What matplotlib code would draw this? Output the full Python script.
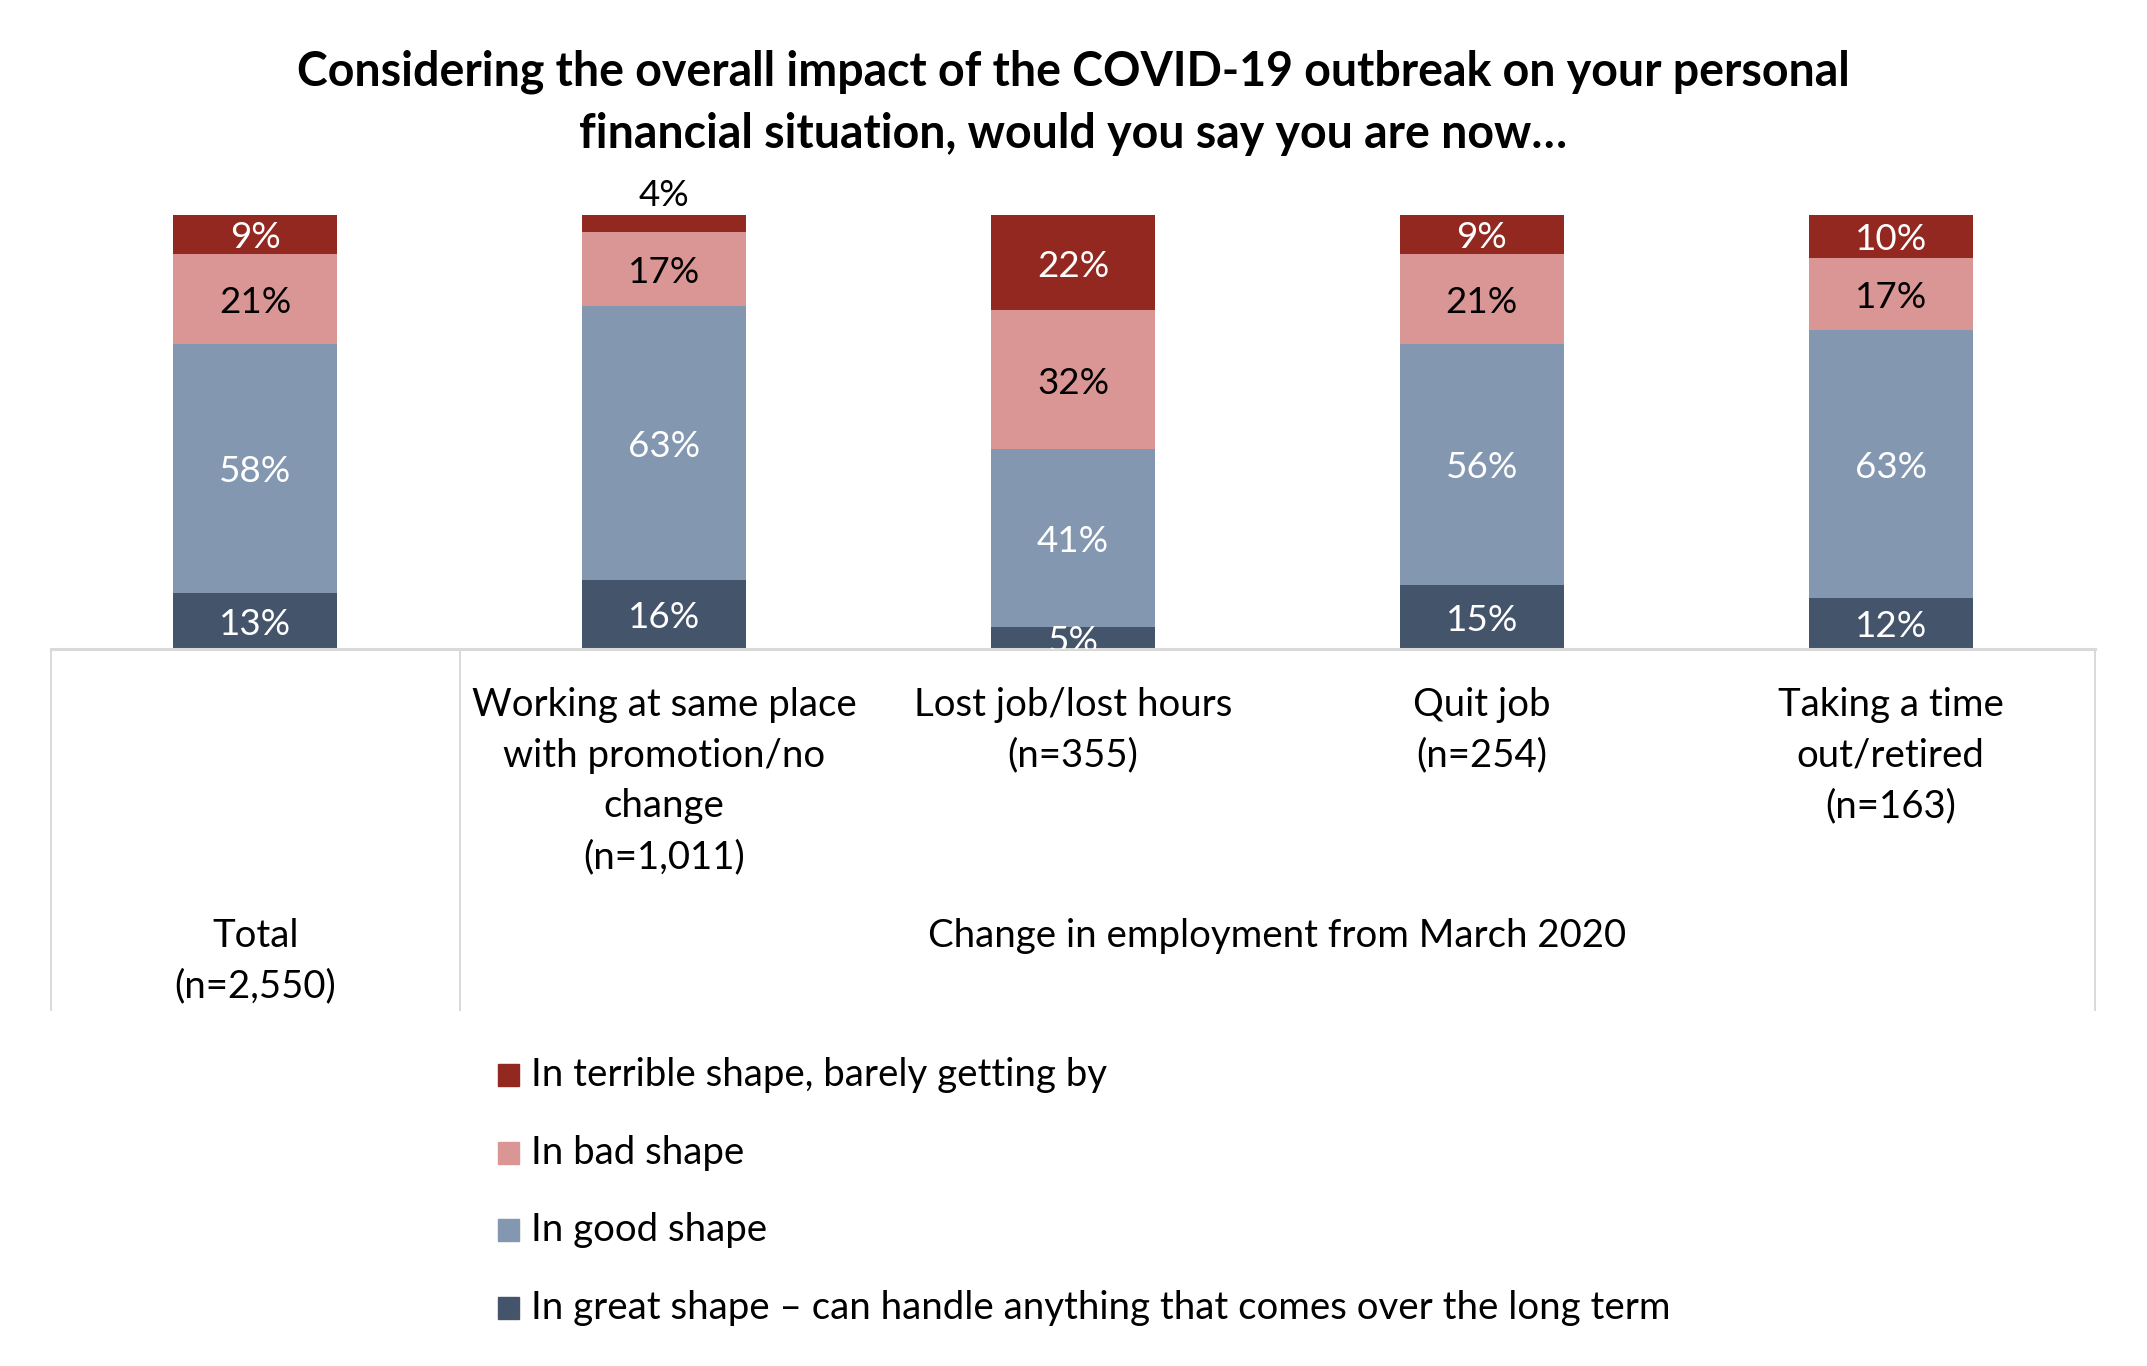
import matplotlib
matplotlib.use("Agg")
import matplotlib.pyplot as plt
from matplotlib.patches import Rectangle
import numpy as np

plt.rcParams['font.family'] = ['Lato', 'DejaVu Sans']

# data (percent labels)
groups = ["Total", "Working", "Lost job", "Quit job", "Time out"]
great = np.array([13, 16, 5, 15, 12])
good = np.array([58, 63, 41, 56, 63])
bad = np.array([21, 17, 32, 21, 17])
terrible = np.array([9, 4, 22, 9, 10])

series_names = ["In great shape \u2013 can handle anything that comes over the long term",
                "In good shape",
                "In bad shape",
                "In terrible shape, barely getting by"]
colors = ["#44546A", "#8497B0", "#DA9694", "#922820"]
label_colors = ["white", "white", "black", "white"]

cat_labels = ["", "Working at same place\nwith promotion/no\nchange\n(n=1,011)",
              "Lost job/lost hours\n(n=355)", "Quit job\n(n=254)",
              "Taking a time\nout/retired\n(n=163)"]
total_label = "Total\n(n=2,550)"
group_label = "Change in employment from March 2020"
title = "Considering the overall impact of the COVID-19 outbreak on your personal\nfinancial situation, would you say you are now\u2026"

W, H = 2147.0, 1366.0  # pixel grid of the output
def fx(x):
    return x / W
def fy(y):
    return 1 - y / H

def lines_text(xc, y0, step, txt, **kw):
    # put each line of a multi-line label on its own row
    for k, line in enumerate(txt.split("\n")):
        fig.text(fx(xc), fy(y0 + k * step), line, ha='center', va='center', **kw)

fig = plt.figure(figsize=(21.47, 13.66), dpi=100)
ax_l, ax_r, ax_b, ax_t = 51, 2095, 649, 215
ax = fig.add_axes([fx(ax_l), fy(ax_b), fx(ax_r) - fx(ax_l), fy(ax_t) - fy(ax_b)])

data = np.vstack([great, good, bad, terrible]).astype(float)
shares = data / data.sum(axis=0) * 100  # 100% stacked like Excel
x = np.arange(len(groups))
bottom = np.zeros(len(groups))
for k in range(4):
    ax.bar(x, shares[k], 0.401, bottom=bottom, color=colors[k], edgecolor='none')
    for i in range(len(groups)):
        val = data[k, i]
        mid = bottom[i] + shares[k, i] / 2 - 0.8
        if k == 3 and val < 5:
            # small value sits above the bar
            ax.text(x[i], 104.5, "%d%%" % val, ha='center', va='center',
                    fontsize=26.5, color='black', clip_on=False)
        else:
            ax.text(x[i], mid, "%d%%" % val, ha='center', va='center',
                    fontsize=26.5, color=label_colors[k], clip_on=True)
    bottom += shares[k]

ax.set_xlim(-0.5, 4.5)
ax.set_ylim(0, 100)
ax.axis('off')

# category axis drawn as a table
px = 100.0 / (ax_b - ax_t)  # data units per pixel
ax.plot([-0.5, 4.5], [0, 0], color='#D9D9D9', lw=2.2, clip_on=False)
for xv in [-0.5, 0.5, 4.5]:
    ax.plot([xv, xv], [0, -(1010 - ax_b) * px], color='#D9D9D9', lw=1.4, clip_on=False)

cw = (ax_r - ax_l) / 5.0
for i in range(1, 5):
    lines_text(ax_l + cw * (i + 0.5), 705, 50.7, cat_labels[i], fontsize=27.6)
lines_text(ax_l + cw * 0.5, 936, 50.7, total_label, fontsize=27.6)
lines_text((ax_l + cw + ax_r) / 2, 936, 50.7, group_label, fontsize=27.6)

lines_text(1073, 72, 62, title, fontsize=33.5, fontweight='bold')

# legend
for j, k in enumerate([3, 2, 1, 0]):
    yc = 1075 + 77.6 * j
    fig.add_artist(Rectangle((fx(498), fy(yc + 11)), fx(21), fy(yc - 11) - fy(yc + 11),
                             color=colors[k], transform=fig.transFigure))
    fig.text(fx(531), fy(yc), series_names[k], ha='left', va='center', fontsize=27.6)

fig.savefig("out.png", dpi=100)
